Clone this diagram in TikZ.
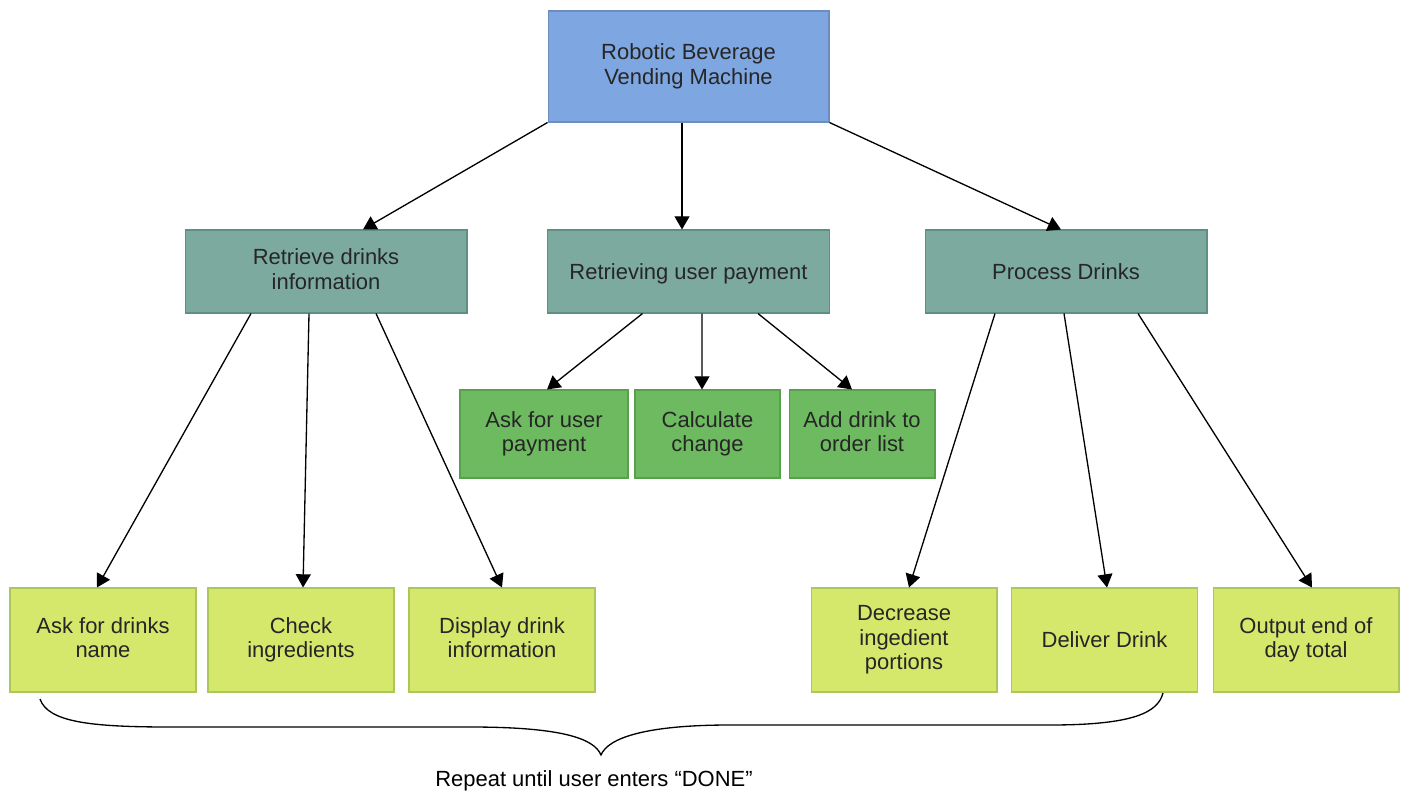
\documentclass[tikz,border=0pt]{standalone}
\usepackage{fontspec}
\setmainfont{Liberation Sans}
\usetikzlibrary{arrows.meta,calc}

\definecolor{topfill}{HTML}{7EA6E0}
\definecolor{topline}{HTML}{6C8EBF}
\definecolor{tealfill}{HTML}{7DAA9F}
\definecolor{tealline}{HTML}{5E8F84}
\definecolor{greenfill}{HTML}{6DBA60}
\definecolor{greenline}{HTML}{58A04C}
\definecolor{limefill}{HTML}{D5E86C}
\definecolor{limeline}{HTML}{A9C75A}

\newcommand{\boxstrut}{\rule[-2.7pt]{0pt}{14pt}}

\begin{document}
\begin{tikzpicture}[x=0.02cm, y=-0.02cm,
  every node/.style={font=\fontsize{12.5}{14}\selectfont},
  box/.style={draw,rectangle,align=center,inner sep=0pt,line width=0.6pt,text=black!85,
    execute at begin node=\boxstrut,execute at end node=\boxstrut},
  topbox/.style={box,fill=topfill,draw=topline,minimum width=5.62cm,minimum height=2.22cm},
  taskbox/.style={box,fill=tealfill,draw=tealline,minimum width=5.64cm,minimum height=1.66cm},
  paybox/.style={box,fill=greenfill,draw=greenline,minimum height=1.76cm},
  stepbox/.style={box,fill=limefill,draw=limeline,minimum width=3.72cm,minimum height=2.08cm},
  arr/.style={-{Triangle[length=7.5pt,width=8.5pt]},line width=0.75pt}]

\useasboundingbox (0,0) rectangle (1405,797);

\node[topbox] (machine) at (688.5,66.5) {Robotic Beverage\\Vending Machine};

\node[taskbox] (drinfo) at (326,271.5) {Retrieve drinks\\information};
\node[taskbox] (payment) at (688.5,271.5) {Retrieving user payment};
\node[taskbox] (process) at (1066,271.5) {Process Drinks};

\node[paybox,minimum width=3.36cm] (askpay) at (544,434) {Ask for user\\payment};
\node[paybox,minimum width=2.90cm] (change) at (707.5,434) {Calculate\\change};
\node[paybox,minimum width=2.92cm] (addord) at (862,434) {Add drink to\\order list};

\node[stepbox] (askname) at (103,640) {Ask for drinks\\name};
\node[stepbox] (ingred) at (301,640) {Check\\ingredients};
\node[stepbox] (dispinfo) at (502,640) {Display drink\\information};

\node[stepbox] (decr) at (904,640) {Decrease\\ingedient\\portions};
\node[stepbox] (deliver) at (1104.5,640) {Deliver Drink};
\node[stepbox] (output) at (1306,640) {Output end of\\day total};

\draw[arr] (machine.south west) -- ($(drinfo.north)+(37,0)$);
\draw[arr] ($(machine.south)+(-6.5,0)$) -- ($(payment.north)+(-6.5,0)$);
\draw[arr] (machine.south east) -- ($(process.north)+(-5,0)$);

\draw[arr] ($(drinfo.south)+(-75,0)$) -- ($(askname.north)+(-6,0)$);
\draw[arr] ($(drinfo.south)+(-17,0)$) -- ($(ingred.north)+(2,0)$);
\draw[arr] ($(drinfo.south)+(50,0)$) -- (dispinfo.north);

\draw[arr] ($(payment.south)+(-46,0)$) -- ($(askpay.north)+(3,0)$);
\draw[arr] ($(payment.south)+(13.5,0)$) -- ($(change.north)+(-5.5,0)$);
\draw[arr] ($(payment.south)+(69.5,0)$) -- ($(addord.north)+(-10,0)$);

\draw[arr] ($(process.south)+(-71,0)$) -- ($(decr.north)+(5,0)$);
\draw[arr] ($(process.south)+(-2,0)$) -- ($(deliver.north)+(2.5,0)$);
\draw[arr] ($(process.south)+(72,0)$) -- ($(output.north)+(6,0)$);

% brace under the loop
\draw[line width=0.75pt] (40,699) .. controls (48,722) and (90,727) .. (170,727) -- (470,727)
  .. controls (560,727) and (594,738) .. (601,755)
  .. controls (608,738) and (645,725) .. (730,725) -- (1050,725)
  .. controls (1135,725) and (1158,712) .. (1163,693);

\node (repeat) at (594,781) {Repeat until user enters “DONE”};

\end{tikzpicture}
\end{document}
